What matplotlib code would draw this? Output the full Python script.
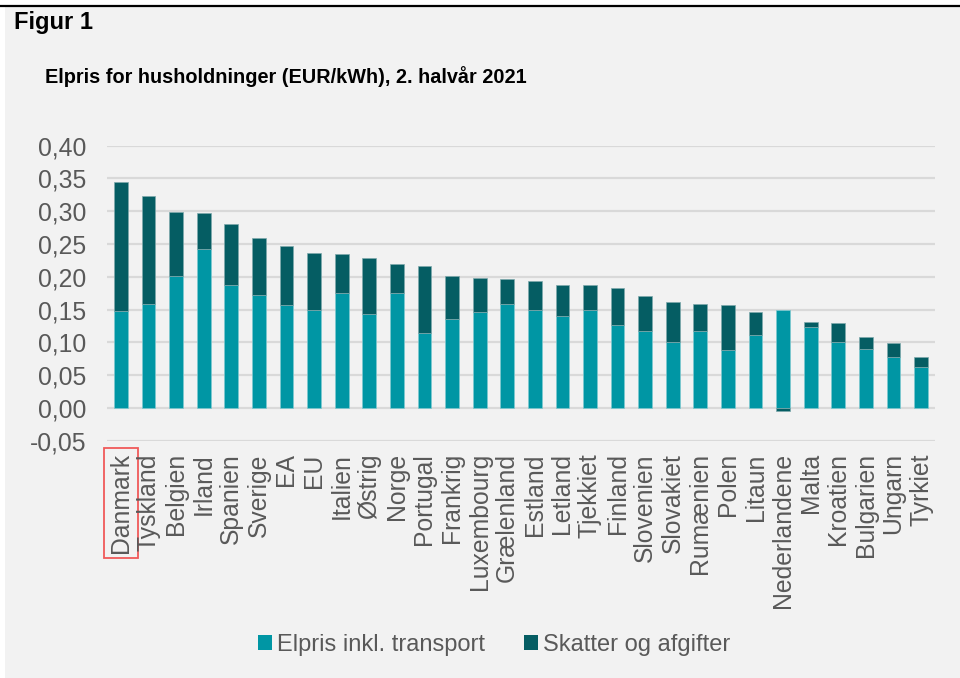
import matplotlib
matplotlib.use("Agg")
import matplotlib.pyplot as plt
from matplotlib.patches import Rectangle, Patch
from matplotlib.lines import Line2D
from matplotlib.ticker import FuncFormatter
import numpy as np

plt.rcParams['font.family'] = ['Liberation Sans', 'DejaVu Sans']

countries = ["Danmark", "Tyskland", "Belgien", "Irland", "Spanien", "Sverige", "EA", "EU",
             "Italien", "Østrig", "Norge", "Portugal", "Frankrig", "Luxembourg", "Grælenland",
             "Estland", "Letland", "Tjekkiet", "Finland", "Slovenien", "Slovakiet", "Rumænien",
             "Polen", "Litaun", "Nederlandene", "Malta", "Kroatien", "Bulgarien", "Ungarn", "Tyrkiet"]
elpris = [0.148, 0.159, 0.201, 0.242, 0.187, 0.173, 0.157, 0.150,
          0.175, 0.144, 0.175, 0.115, 0.135, 0.147, 0.158,
          0.149, 0.140, 0.149, 0.126, 0.118, 0.101, 0.117,
          0.088, 0.112, 0.150, 0.123, 0.101, 0.090, 0.078, 0.063]
skatter = [0.196, 0.164, 0.098, 0.055, 0.094, 0.086, 0.090, 0.086,
           0.060, 0.084, 0.045, 0.101, 0.066, 0.051, 0.038,
           0.044, 0.048, 0.038, 0.057, 0.052, 0.060, 0.042,
           0.069, 0.035, -0.004, 0.008, 0.029, 0.018, 0.021, 0.015]
legend_labels = ["Elpris inkl. transport", "Skatter og afgifter"]
yticks = [-0.05, 0.0, 0.05, 0.10, 0.15, 0.20, 0.25, 0.30, 0.35, 0.40]

c_light = "#0096A4"
c_dark = "#055D63"
txt = "#595959"
W, H = 960, 678

fig = plt.figure(figsize=(W / 100, H / 100), dpi=100)
fig.patch.set_facecolor("white")
fig.patches.append(Rectangle((5 / W, 0), 1 - 5 / W, 1 - 7 / H, transform=fig.transFigure,
                             facecolor="#F2F2F2", edgecolor="none", zorder=-10))
fig.lines.append(Line2D([0, 1], [1 - 6 / H, 1 - 6 / H], transform=fig.transFigure,
                        color="black", lw=1.6))

ax = fig.add_axes([107 / W, 1 - 440.7 / H, (935 - 107) / W, (440.7 - 145.7) / H])
ax.set_facecolor("none")
ax.set_zorder(5)

x = np.arange(len(countries))
el = np.array(elpris)
sk = np.array(skatter)
bottoms = np.where(sk >= 0, el, 0)
ax.bar(x, el, width=0.5, color=c_light, edgecolor="#7FC9D0", linewidth=0.5, zorder=3)
ax.bar(x, sk, width=0.5, bottom=bottoms, color=c_dark, edgecolor="#7FA9AC", linewidth=0.5, zorder=3)

ax.set_xlim(-0.5, len(countries) - 0.5)
ax.set_ylim(-0.05, 0.40)
ax.set_yticks(yticks)
ax.yaxis.set_major_formatter(FuncFormatter(lambda v, p: f"{v:.2f}".replace(".", ",")))
ax.grid(axis="y", color="#D9D9D9", lw=1.6, zorder=1)
ax.set_axisbelow(True)
for s in ax.spines.values():
    s.set_visible(False)
ax.tick_params(axis="both", length=0, colors=txt, labelsize=17.8)
ax.tick_params(axis="y", pad=15)
ax.set_xticks(x)
ax.set_xticklabels(countries, rotation=90, color=txt)
ax.tick_params(axis="x", pad=9)
ax.get_xticklabels()[0].set_bbox(dict(facecolor="none", edgecolor="#F05A5A", lw=1.3, pad=3.5))

fig.text(14 / W, 1 - 22 / H, "Figur 1", fontsize=17, fontweight="bold", color="black",
         va="center", ha="left")
fig.text(45 / W, 1 - 77 / H, "Elpris for husholdninger (EUR/kWh), 2. halvår 2021", fontsize=14.3,
         fontweight="bold", color="black", va="center", ha="left")

handles = [Patch(facecolor=c_light, edgecolor="none"), Patch(facecolor=c_dark, edgecolor="none")]
fig.legend(handles, legend_labels, loc="center", bbox_to_anchor=(494 / W, 1 - 645 / H), ncol=2,
           frameon=False, fontsize=17, labelcolor=txt, handlelength=0.6, handleheight=0.6,
           handletextpad=0.2, columnspacing=1.66)

fig.savefig("out.png", dpi=100)
